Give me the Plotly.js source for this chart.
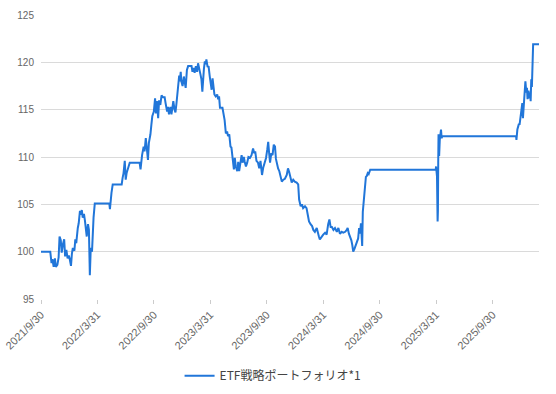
<!DOCTYPE html>
<html>
<head>
<meta charset="utf-8">
<script src="https://cdn.plot.ly/plotly-3.0.1.min.js"></script>
<style>html,body{margin:0;padding:0;background:#fff;}#chart{width:556px;height:394px;}</style>
</head>
<body>
<div id="chart"></div>
<script>
const seriesName = "ETF戦略ポートフォリオ*1";
const dates = [
"2021-09-30","2021-10-30","2021-11-03","2021-11-06","2021-11-10","2021-11-14","2021-11-17","2021-11-22","2021-11-26","2021-11-29",
"2021-12-03","2021-12-06","2021-12-10","2021-12-14","2021-12-17","2021-12-21","2021-12-25","2021-12-29","2022-01-01","2022-01-05",
"2022-01-08","2022-01-11","2022-01-16","2022-01-19","2022-01-22","2022-01-24","2022-01-27","2022-01-30","2022-02-03","2022-02-06",
"2022-02-09","2022-02-12","2022-02-16","2022-02-19","2022-02-22","2022-02-25","2022-03-01","2022-03-04","2022-03-07","2022-03-10",
"2022-03-14","2022-03-16","2022-03-19","2022-03-23","2022-05-09","2022-05-11","2022-05-13","2022-05-16","2022-05-20","2022-06-18",
"2022-06-21","2022-06-24","2022-06-28","2022-07-01","2022-07-04","2022-07-07","2022-07-14","2022-08-15","2022-08-18","2022-08-23",
"2022-08-28","2022-08-31","2022-09-04","2022-09-08","2022-09-11","2022-09-14","2022-09-19","2022-09-22","2022-09-25","2022-09-30",
"2022-10-04","2022-10-07","2022-10-10","2022-10-14","2022-10-17","2022-10-21","2022-10-25","2022-10-30","2022-11-04","2022-11-07",
"2022-11-12","2022-11-15","2022-11-18","2022-11-23","2022-11-26","2022-11-29","2022-12-02","2022-12-06","2022-12-09","2022-12-12",
"2022-12-17","2022-12-21","2022-12-23","2022-12-26","2022-12-28","2023-01-01","2023-01-05","2023-01-08","2023-01-11","2023-01-15",
"2023-01-19","2023-01-30","2023-02-02","2023-02-06","2023-02-09","2023-02-13","2023-02-17","2023-02-20","2023-02-23","2023-02-28",
"2023-03-03","2023-03-06","2023-03-11","2023-03-14","2023-03-17","2023-03-19","2023-03-23","2023-03-26","2023-03-30","2023-04-02",
"2023-04-05","2023-04-08","2023-04-11","2023-04-14","2023-04-18","2023-04-23","2023-04-26","2023-04-29","2023-05-02","2023-05-10",
"2023-05-17","2023-05-21","2023-05-25","2023-05-28","2023-06-01","2023-06-05","2023-06-08","2023-06-12","2023-06-16","2023-06-19",
"2023-06-22","2023-06-27","2023-06-30","2023-07-03","2023-07-08","2023-07-11","2023-07-14","2023-07-18","2023-07-21","2023-07-25",
"2023-07-29","2023-08-02","2023-08-07","2023-08-12","2023-08-17","2023-08-21","2023-08-24","2023-08-28","2023-09-02","2023-09-06",
"2023-09-10","2023-09-15","2023-09-19","2023-09-23","2023-09-28","2023-10-02","2023-10-05","2023-10-08","2023-10-11","2023-10-15",
"2023-10-19","2023-10-23","2023-10-27","2023-10-30","2023-11-02","2023-11-06","2023-11-10","2023-11-14","2023-11-18","2023-11-23",
"2023-11-28","2023-12-04","2023-12-08","2023-12-12","2023-12-17","2023-12-20","2023-12-25","2023-12-30","2024-01-05","2024-01-10",
"2024-01-13","2024-01-18","2024-01-22","2024-01-26","2024-02-01","2024-02-06","2024-02-10","2024-02-14","2024-02-19","2024-02-24",
"2024-02-28","2024-03-04","2024-03-10","2024-03-13","2024-03-17","2024-03-20","2024-03-26","2024-03-31","2024-04-06","2024-04-11",
"2024-04-16","2024-04-20","2024-04-24","2024-04-28","2024-05-03","2024-05-08","2024-05-14","2024-05-19","2024-05-24","2024-05-30",
"2024-06-04","2024-06-10","2024-06-15","2024-06-18","2024-06-22","2024-06-26","2024-06-30","2024-07-03","2024-07-06","2024-07-10",
"2024-07-14","2024-07-17","2024-07-22","2024-07-25","2024-07-28","2024-07-31","2024-08-04","2024-08-06","2024-08-09","2024-08-12",
"2024-08-16","2024-08-19","2024-08-22","2024-08-25","2024-08-30","2025-03-30","2025-03-31","2025-04-03","2025-04-05","2025-04-06","2025-04-07",
"2025-04-08","2025-04-10","2025-04-12","2025-04-16","2025-04-18","2025-04-20","2025-12-15","2025-12-16","2025-12-19","2025-12-22","2025-12-24",
"2025-12-26","2025-12-29","2026-01-01","2026-01-04","2026-01-06","2026-01-08","2026-01-12","2026-01-14","2026-01-17","2026-01-19",
"2026-01-21","2026-01-24","2026-01-27","2026-01-29","2026-01-31","2026-02-02","2026-02-04","2026-02-06","2026-02-08","2026-02-27"
];
const values = [
100.0,100.0,98.8,99.2,98.4,99.3,98.4,98.6,99.4,101.6,
101.2,99.9,100.8,101.3,99.5,100.2,99.3,99.6,99.2,98.5,
99.8,100.4,100.1,101.3,100.9,102.0,102.5,103.0,104.3,103.9,
104.4,103.6,104.0,103.3,102.5,101.6,102.9,102.3,97.5,100.4,
100.0,102.3,103.6,105.1,105.1,104.5,105.8,106.2,107.1,107.1,
107.8,108.3,109.6,107.6,108.3,108.6,109.4,109.4,108.7,110.2,
111.1,110.6,112.0,110.7,109.7,111.5,112.4,113.4,114.3,114.8,
116.2,114.6,115.9,114.1,116.0,115.5,116.5,116.3,116.3,115.7,
114.8,115.3,114.5,115.3,114.5,115.2,115.9,115.0,114.7,115.6,
117.4,118.6,118.0,119.0,118.0,117.5,118.5,117.9,117.3,119.2,
119.6,119.6,119.0,119.4,118.9,119.6,119.0,119.9,119.3,118.7,
118.2,116.9,119.3,120.1,119.8,120.3,119.5,119.6,118.5,118.0,
117.1,118.3,117.5,116.6,116.4,116.6,116.1,116.4,115.2,115.2,
113.9,112.5,112.7,112.2,112.4,111.1,111.0,109.5,108.7,109.9,
109.0,108.5,109.5,108.5,109.9,110.2,109.4,110.0,109.5,109.0,
109.4,110.0,109.9,110.2,110.9,110.4,110.6,109.6,109.4,108.8,
109.6,108.1,108.9,109.4,109.9,110.8,111.6,110.4,109.4,110.4,
110.2,111.3,111.1,109.8,109.2,108.8,108.5,108.0,107.4,107.6,
107.7,108.1,108.8,108.4,107.7,107.3,107.6,107.4,107.3,107.1,
105.5,104.8,105.0,104.6,104.8,104.6,103.9,103.2,102.9,102.7,
102.3,102.1,102.5,102.0,101.6,101.3,101.6,101.8,102.0,101.8,
102.9,103.4,102.6,102.6,102.3,102.5,102.1,102.5,101.9,102.1,
102.0,102.1,102.3,102.5,101.9,101.6,101.2,100.7,100.0,100.3,
100.7,101.0,101.4,102.5,101.9,103.0,100.6,104.2,105.6,106.9,
107.9,108.0,108.3,108.2,108.66,108.66,109.0,107.95,103.2,104.3,109.4,
112.4,110.1,111.8,112.9,112.0,112.2,112.2,111.8,112.9,113.4,113.5,
113.4,114.3,114.5,115.7,114.1,115.2,117.5,118.0,116.8,117.3,
116.1,117.0,116.2,116.8,115.9,118.2,117.4,119.9,121.9,121.9
];
const tickDates = ["2021-09-30","2022-03-31","2022-09-30","2023-03-31","2023-09-30","2024-03-31","2024-09-30","2025-03-31","2025-09-30"];
const tickLabels = ["2021/9/30","2022/3/31","2022/9/30","2023/3/31","2023/9/30","2024/3/31","2024/9/30","2025/3/31","2025/9/30"];
const yTicks = [95,100,105,110,115,120,125];

const trace = {
  x: dates, y: values, type: 'scatter', mode: 'lines', name: seriesName,
  line: {color: '#2176d9', width: 2}
};
const layout = {
  width: 556, height: 394,
  margin: {l: 41, r: 17, t: 15, b: 95, autoexpand: false},
  paper_bgcolor: '#ffffff', plot_bgcolor: '#ffffff',
  font: {family: 'Arial, "Liberation Sans", "Noto Sans CJK JP", sans-serif', color: '#666', size: 11},
  showlegend: true,
  legend: {orientation: 'h', x: 0.466, xanchor: 'center', y: -0.27, yanchor: 'middle',
           font: {size: 12, color: '#444', family: '"Noto Sans CJK JP", Roboto, sans-serif'}},
  xaxis: {
    type: 'date', range: [dates[0], dates[dates.length-1]], automargin: false,
    tickvals: tickDates, ticktext: tickLabels, tickangle: -45,
    showgrid: false, zeroline: false, showline: false,
    ticks: 'outside', ticklen: 4, tickcolor: '#cccccc', tickwidth: 1,
    tickfont: {size: 11, color: '#666'}
  },
  yaxis: {
    range: [95, 125], tickvals: yTicks, showgrid: true, gridcolor: '#dadada', gridwidth: 1,
    zeroline: false, showline: false, ticks: '', automargin: false, ticklabelstandoff: 6,
    tickfont: {size: 10, color: '#666'}
  }
};
Plotly.newPlot('chart', [trace], layout, {displayModeBar: false, staticPlot: true});
</script>
</body>
</html>
